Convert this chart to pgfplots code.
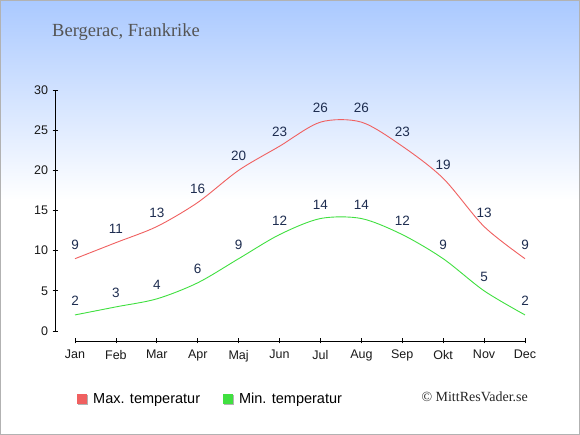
\documentclass[border=0pt]{standalone}
\usepackage{fontspec}
\setmainfont{Liberation Sans}
\newfontfamily\serif{Liberation Serif}
\usepackage{pgfplots}
\pgfplotsset{compat=1.18}
\definecolor{maxc}{RGB}{240,96,96}
\definecolor{minc}{RGB}{64,224,64}
\definecolor{maxl}{RGB}{240,72,72}
\definecolor{minl}{RGB}{48,224,48}
\definecolor{lab}{RGB}{30,45,80}
\definecolor{topblue}{RGB}{170,201,255}
\begin{document}
\begin{tikzpicture}[x=1pt,y=1pt]
\fill[white] (0,0) rectangle (580,435);
\shade[top color=topblue, bottom color=white] (0,235) rectangle (580,435);
\draw[color=black!30, line width=1pt] (0.5,0.5) rectangle (579.5,434.5);
\node[anchor=west, text=black!67, font=\serif\fontsize{18.5}{21}\selectfont, inner sep=0pt] at (52,403) {Bergerac, Frankrike};
\node[anchor=east, text=black!85, font=\serif\fontsize{14}{16}\selectfont, inner sep=0pt] at (528,38) {\textcopyright\ MittResVader.se};
\begin{axis}[
  at={(55pt,94pt)}, anchor=south west,
  scale only axis, width=470pt, height=251pt,
  xmin=-0.489, xmax=11, ymin=-1.245, ymax=30,
  axis x line*=bottom, axis y line*=left,
  axis line style={draw=none},
  clip=false,
  xtick={0,...,11},
  xticklabels={Jan,Feb,Mar,Apr,Maj,Jun,Jul,Aug,Sep,Okt,Nov,Dec},
  ytick={0,5,...,30},
  tick align=center, major tick length=5pt,
  every tick/.style={black, line width=0.8pt},
  tick label style={font=\fontsize{12.5}{14}\selectfont, text=black!90},
  /pgf/number format/assume math mode=true,
  xticklabel style={yshift=-3pt},
  yticklabel style={xshift=-1pt},
  nodes near coords,
  nodes near coords align={anchor=center},
  every node near coord/.append style={font=\fontsize{13.5}{15}\selectfont, text=lab, yshift=14pt},
  legend style={at={(axis description cs:0.0468,-0.231)}, anchor=west, draw=none, fill=none,
    font=\fontsize{14.5}{16}\selectfont, inner sep=0pt,
    /tikz/every even column/.append style={column sep=21pt}},
  legend columns=2,
  legend image code/.code={\path[draw=none,fill=none] (0pt,0pt) -- (14pt,0pt);\fill[draw=none,black!30] (1pt,-6pt) rectangle (11pt,4pt);\fill[draw=none,#1] (0pt,-5pt) rectangle (10pt,5pt);},
]
\draw[black, line width=0.8pt] (axis cs:-0.489,0) -- (axis cs:-0.489,30);
\draw[black, line width=0.8pt] (axis cs:0,-1.245) -- (axis cs:11,-1.245);
\addplot[color=maxc, line width=0.9pt, smooth, mark=none] coordinates {
(0,9) (1,11) (2,13) (3,16) (4,20) (5,23) (6,26) (7,26) (8,23) (9,19) (10,13) (11,9)};
\addplot[color=minc, line width=0.9pt, smooth, mark=none] coordinates {
(0,2) (1,3) (2,4) (3,6) (4,9) (5,12) (6,14) (7,14) (8,12) (9,9) (10,5) (11,2)};
\legend{}
\addlegendimage{maxl}
\addlegendentry{Max. temperatur}
\addlegendimage{minl}
\addlegendentry{Min. temperatur}
\end{axis}
\end{tikzpicture}
\end{document}
